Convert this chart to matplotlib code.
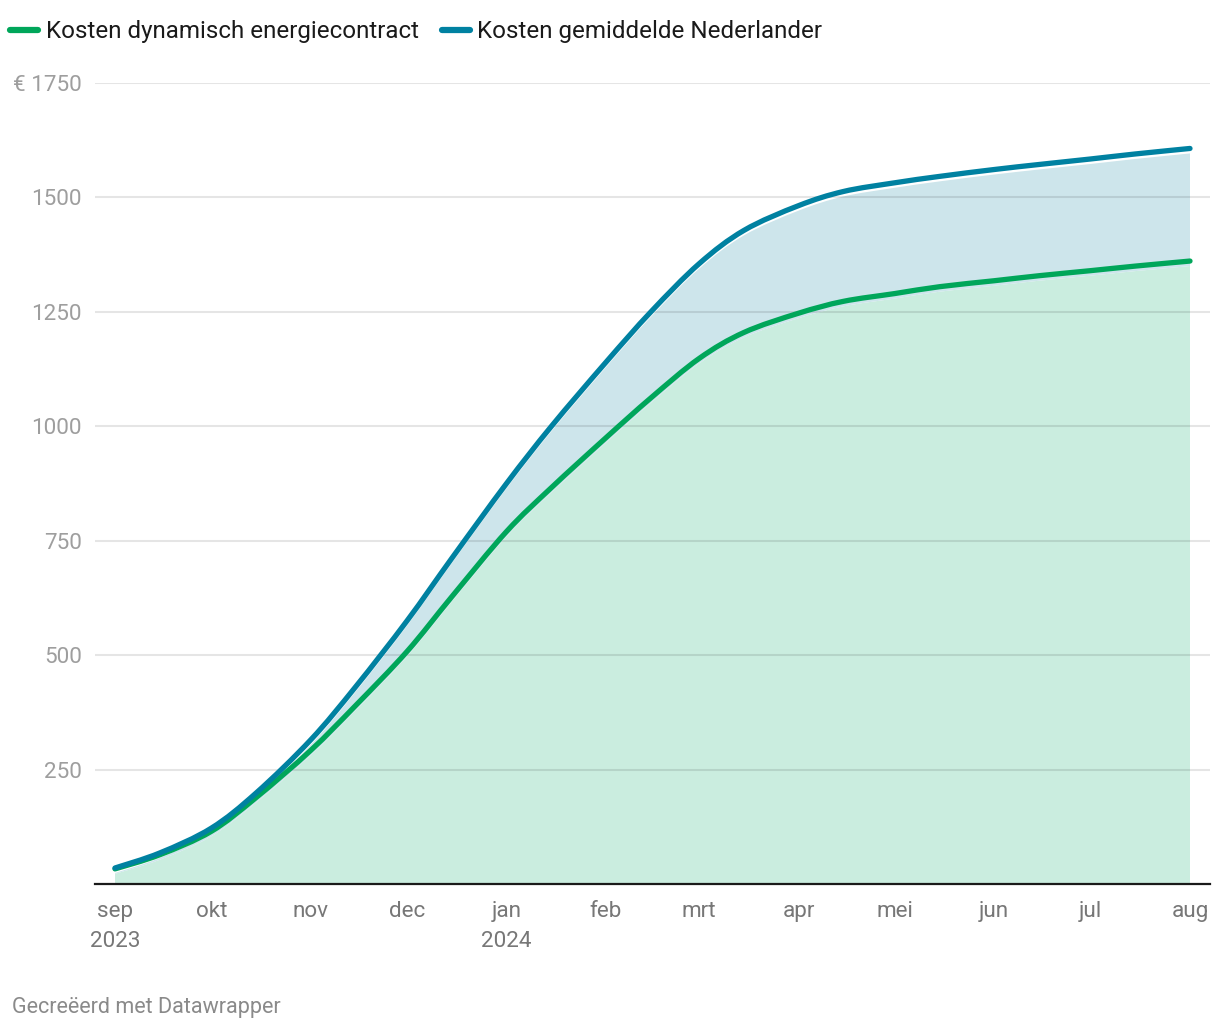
import numpy as np
import matplotlib
matplotlib.use('Agg')
import matplotlib.pyplot as plt
import matplotlib.dates as mdates
import matplotlib.transforms as mtransforms
from matplotlib.path import Path
from matplotlib.patches import PathPatch
from datetime import datetime

plt.rcParams['font.family'] = ['Roboto', 'DejaVu Sans']

# dates (1st and 15th of each month)
dates = ['2023-09-01', '2023-09-15', '2023-10-01', '2023-10-15', '2023-11-01', '2023-11-15',
         '2023-12-01', '2023-12-15', '2024-01-01', '2024-01-15', '2024-02-01', '2024-02-15',
         '2024-03-01', '2024-03-15', '2024-04-01', '2024-04-15', '2024-05-01', '2024-05-15',
         '2024-06-01', '2024-06-15', '2024-07-01', '2024-07-15', '2024-08-01']
kosten_dynamisch = [33, 64, 115, 189, 292, 390, 508, 628, 770, 866, 975, 1062,
                    1148, 1205, 1247, 1273, 1290, 1305, 1318, 1329, 1340, 1350, 1361]
kosten_gemiddeld = [35, 68, 122, 199, 315, 431, 575, 712, 875, 1000, 1140, 1250,
                    1355, 1428, 1482, 1513, 1532, 1546, 1561, 1572, 1584, 1595, 1607]

month_labels = ['sep\n2023', 'okt', 'nov', 'dec', 'jan\n2024', 'feb', 'mrt', 'apr',
                'mei', 'jun', 'jul', 'aug']
month_ticks = ['2023-09-01', '2023-10-01', '2023-11-01', '2023-12-01', '2024-01-01',
               '2024-02-01', '2024-03-01', '2024-04-01', '2024-05-01', '2024-06-01',
               '2024-07-01', '2024-08-01']
y_ticks = [250, 500, 750, 1000, 1250, 1500, 1750]
y_labels = ['250', '500', '750', '1000', '1250', '1500', '€ 1750']

GREEN = '#00a65a'
BLUE = '#0081a1'
GREEN_FILL = '#caeddf'
BLUE_FILL = '#cde5eb'


def smooth_path(xs, ys):
    # catmull-rom style bezier through the points (rendering only)
    xs = np.asarray(xs, float)
    ys = np.asarray(ys, float)
    verts = [(xs[0], ys[0])]
    codes = [Path.MOVETO]
    n = len(xs)
    for i in range(n - 1):
        x0, y0 = (xs[i - 1], ys[i - 1]) if i > 0 else (xs[i], ys[i])
        x3, y3 = (xs[i + 2], ys[i + 2]) if i + 2 < n else (xs[i + 1], ys[i + 1])
        x1, y1 = xs[i], ys[i]
        x2, y2 = xs[i + 1], ys[i + 1]
        c1 = (x1 + (x2 - x0) / 6.0, y1 + (y2 - y0) / 6.0)
        c2 = (x2 - (x3 - x1) / 6.0, y2 - (y3 - y1) / 6.0)
        verts += [c1, c2, (x2, y2)]
        codes += [Path.CURVE4] * 3
    return verts, codes


x = mdates.date2num([datetime.strptime(d, '%Y-%m-%d') for d in dates])

fig = plt.figure(figsize=(12.2, 10.3), dpi=100)
ax = fig.add_axes([95 / 1220, 146 / 1030, 1115 / 1220, 801 / 1030])

# areas, drawn slightly below the lines like the original
shift = mtransforms.offset_copy(ax.transData, fig=fig, x=0, y=-5, units='dots')
gv, gc = smooth_path(x, kosten_dynamisch)
bv, bc = smooth_path(x, kosten_gemiddeld)
# green area: base -> green line
green_verts = [(x[0], 0)] + gv + [(x[-1], 0), (x[0], 0)]
green_codes = [Path.MOVETO, Path.LINETO] + gc[1:] + [Path.LINETO, Path.CLOSEPOLY]
ax.add_patch(PathPatch(Path(green_verts, green_codes), facecolor=GREEN_FILL, edgecolor='none',
                       transform=shift, zorder=1))
# blue area: green line -> blue line
gv_r, gc_r = smooth_path(x[::-1], kosten_dynamisch[::-1])
blue_verts = bv + gv_r + [bv[0]]
blue_codes = bc + [Path.LINETO] + gc_r[1:] + [Path.CLOSEPOLY]
ax.add_patch(PathPatch(Path(blue_verts, blue_codes), facecolor=BLUE_FILL, edgecolor='none',
                       transform=shift, zorder=1))

# lines
ax.add_patch(PathPatch(Path(gv, gc), facecolor='none', edgecolor=GREEN, lw=3.8,
                       capstyle='round', joinstyle='round', zorder=4))
ax.add_patch(PathPatch(Path(bv, bc), facecolor='none', edgecolor=BLUE, lw=3.8,
                       capstyle='round', joinstyle='round', zorder=5))

# legend handles
ax.plot([], [], color=GREEN, lw=4.5, solid_capstyle='round', label='Kosten dynamisch energiecontract')
ax.plot([], [], color=BLUE, lw=4.5, solid_capstyle='round', label='Kosten gemiddelde Nederlander')

pad_days = 20 * 335 / 1075
ax.set_xlim(x[0] - pad_days, x[-1] + pad_days)
ax.set_ylim(0, 1750)

tick_x = mdates.date2num([datetime.strptime(d, '%Y-%m-%d') for d in month_ticks])
ax.set_xticks(tick_x)
ax.set_xticklabels(month_labels, fontsize=16.2, color='#777777', linespacing=1.55, va='top')
ax.set_yticks(y_ticks)
ax.set_yticklabels(y_labels, fontsize=16.2, color='#9e9e9e')
ax.tick_params(axis='both', length=0)
ax.tick_params(axis='x', pad=12.5)
ax.tick_params(axis='y', pad=9.5)

for s in ['top', 'right', 'left']:
    ax.spines[s].set_visible(False)
ax.spines['bottom'].set_color('#1a1a1a')
ax.spines['bottom'].set_linewidth(1.6)
ax.spines['bottom'].set_zorder(6)

for v in y_ticks:
    ax.axhline(v, color='black', alpha=0.1, lw=1.5, zorder=2)

leg = fig.legend(loc='upper left', bbox_to_anchor=(10 / 1220, 1 - 20 / 1030), ncol=2,
                 frameon=False, fontsize=17.4, handlelength=1.15, handletextpad=0.33,
                 columnspacing=0.95, borderpad=0, borderaxespad=0)
for t in leg.get_texts():
    t.set_color('#1a1a1a')

fig.text(12 / 1220, 1 - 1008 / 1030, 'Gecreëerd met Datawrapper', fontsize=15.5,
         color='#8a8a8a', va='center', ha='left')

fig.savefig('out.png', dpi=100)
